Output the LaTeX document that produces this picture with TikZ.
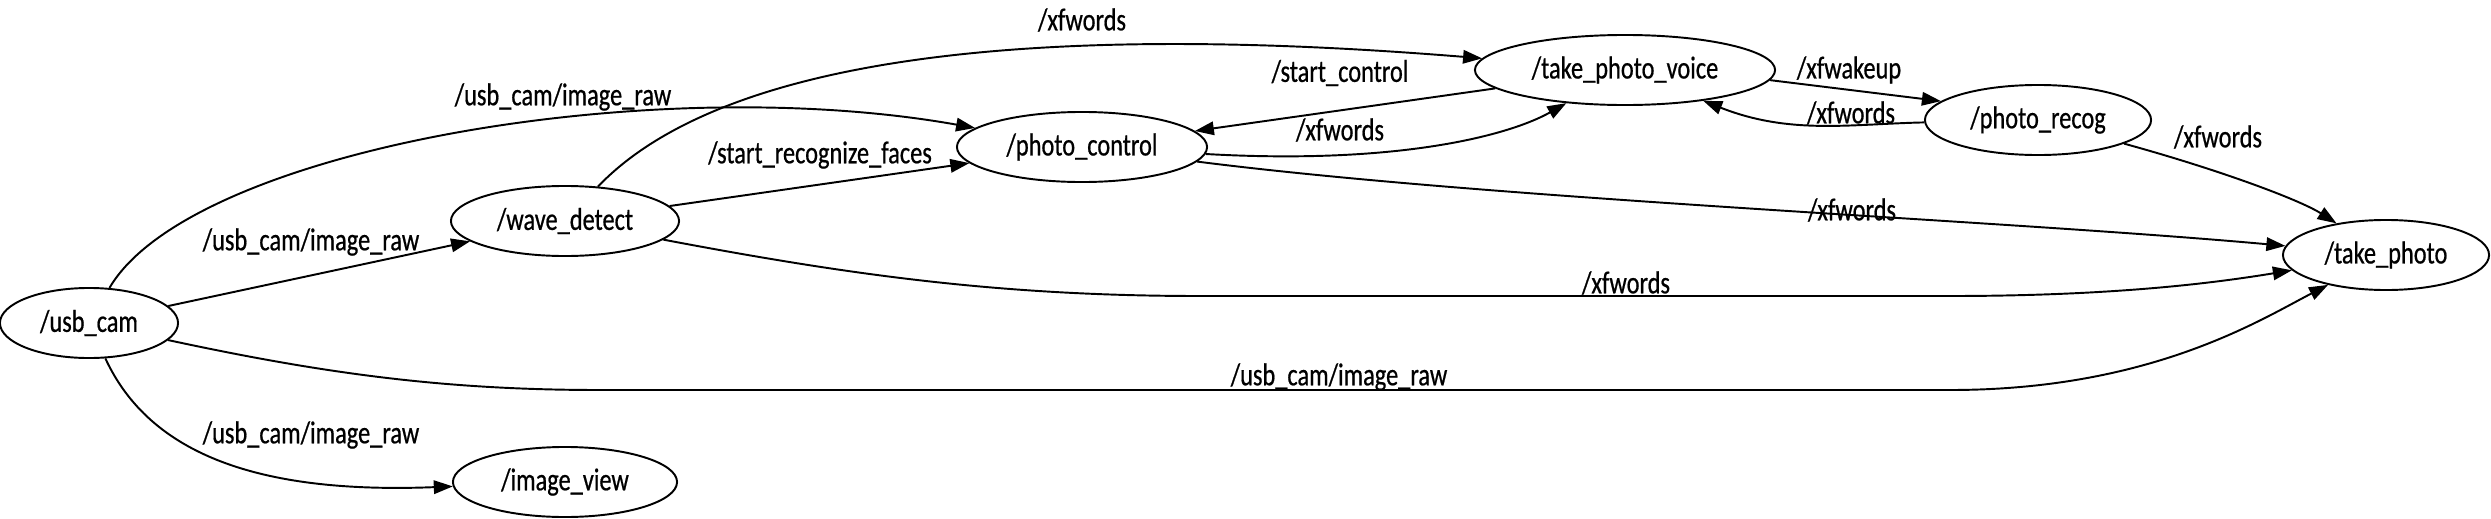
\documentclass[tikz,border=0pt]{standalone}
\usepackage{fontspec}
\setmainfont{Carlito}[FakeStretch=0.77, FakeBold=0.6]
\usetikzlibrary{arrows.meta, shapes.geometric}

\begin{document}
\begin{tikzpicture}[x=0.01cm, y=-0.01cm, >={Triangle[length=0.19cm,width=0.135cm]}, line width=0.55pt,
  rosnode/.style={ellipse, draw, inner sep=0pt, minimum height=0.7cm, font=\fontsize{9}{10}\selectfont},
  topic/.style={inner sep=1pt, font=\fontsize{9}{10}\selectfont}]
  \useasboundingbox (0,0) rectangle (2491,518);

  % Nodes
  \node[rosnode, minimum width=1.78cm] (usb_cam) at (89,323) {/usb\_cam};
  \node[rosnode, minimum width=2.28cm] (wave_detect) at (565,221) {/wave\_detect};
  \node[rosnode, minimum width=2.24cm] (image_view) at (565,482) {/image\_view};
  \node[rosnode, minimum width=2.5cm] (photo_control) at (1082,147) {/photo\_control};
  \node[rosnode, minimum width=3.0cm] (take_photo_voice) at (1625,70) {/take\_photo\_voice};
  \node[rosnode, minimum width=2.26cm] (photo_recog) at (2038,120) {/photo\_recog};
  \node[rosnode, minimum width=2.06cm] (take_photo) at (2386,255) {/take\_photo};

  % Topics from /usb_cam
  \draw[->] (usb_cam) -- (wave_detect);
  \draw[->] (usb_cam) .. controls (190,150) and (650,70) .. (photo_control);
  \draw[->] (usb_cam) .. controls (330,375) and (450,390) .. (600,390) -- (1950,390)
    .. controls (2150,390) and (2260,320) .. (take_photo);
  \draw[->] (usb_cam) .. controls (150,455) and (260,494) .. (image_view);

  % Topics from /wave_detect
  \draw[->] (wave_detect) -- (photo_control);
  \draw[->] (wave_detect) .. controls (700,80) and (950,15) .. (take_photo_voice);
  \draw[->] (wave_detect) .. controls (850,275) and (1000,296) .. (1200,296) -- (1950,296)
    .. controls (2120,296) and (2220,282) .. (take_photo);

  % Topics between the photo nodes
  \draw[->] (photo_control) .. controls (1500,200) and (2000,220) .. (take_photo);
  \draw[->] (take_photo_voice) -- (photo_control);
  \draw[->] (photo_control) .. controls (1400,165) and (1510,135) .. (take_photo_voice);
  \draw[->] (take_photo_voice.-4) -- (photo_recog.169);
  \draw[->] (photo_recog) .. controls (1850,124) and (1790,135) .. (take_photo_voice);
  \draw[->] (photo_recog) .. controls (2220,170) and (2300,200) .. (take_photo);

  % Labels
  \node[topic] (t_raw1) at (311,242) {/usb\_cam/image\_raw};
  \node[topic] (t_raw2) at (563,97) {/usb\_cam/image\_raw};
  \node[topic] (t_raw3) at (1339,377) {/usb\_cam/image\_raw};
  \node[topic] (t_raw4) at (311,435) {/usb\_cam/image\_raw};
  \node[topic] (t_faces) at (820,155) {/start\_recognize\_faces};
  \node[topic] (t_words1) at (1082,20) {/xfwords};
  \node[topic] (t_words2) at (1626,283) {/xfwords};
  \node[topic] (t_words3) at (1852,210) {/xfwords};
  \node[topic] (t_control) at (1340,73) {/start\_control};
  \node[topic] (t_words4) at (1340,130) {/xfwords};
  \node[topic] (t_wakeup) at (1849,70) {/xfwakeup};
  \node[topic] (t_words5) at (1851,113) {/xfwords};
  \node[topic] (t_words6) at (2218,137) {/xfwords};
\end{tikzpicture}
\end{document}
